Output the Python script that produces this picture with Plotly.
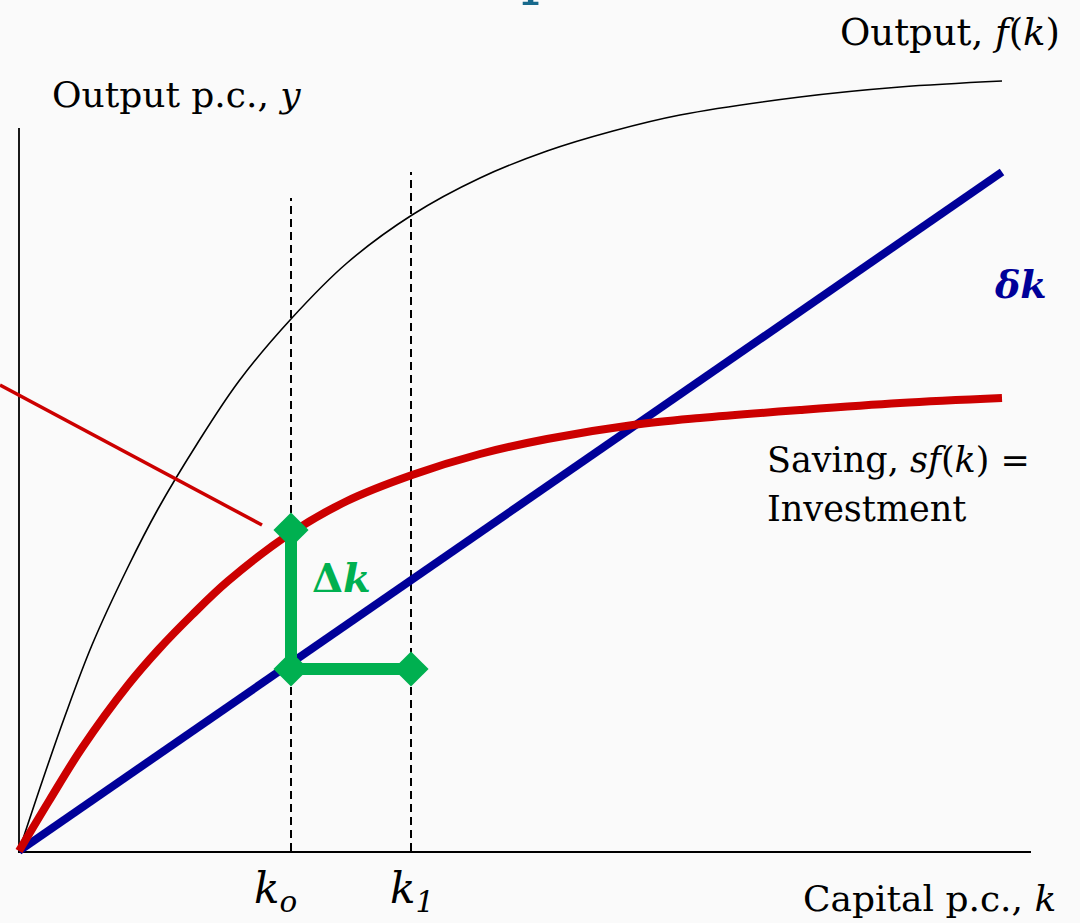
import plotly.graph_objects as go

# ---- data (units: capital per capita k, output per capita y) ----
k_output = [0, 0.24, 0.46, 0.73, 1.09, 1.39, 1.78, 2.20, 2.72, 3.28, 3.93, 4.61, 5.28, 5.94, 6.61, 7.81, 8.81, 9.83]
y_output = [0, 0.72, 1.35, 2.06, 2.84, 3.42, 4.07, 4.70, 5.32, 5.88, 6.36, 6.73, 7.00, 7.20, 7.36, 7.54, 7.64, 7.70]

k_saving = [0, 0.30, 0.63, 1.09, 1.40, 1.73, 2.09, 2.72, 3.28, 3.93, 4.61, 5.28, 6.14, 6.81, 7.81, 8.81, 9.83]
y_saving = [0, 0.50, 1.03, 1.66, 2.02, 2.36, 2.70, 3.18, 3.50, 3.76, 3.97, 4.12, 4.26, 4.33, 4.41, 4.48, 4.53]

k_depr = [0, 9.83]
y_depr = [0, 6.79]

k0 = 2.72
k1 = 3.92
k0_top = 6.53
k1_top = 6.79
dk_top = 3.21
dk_bottom = 1.82

pointer_x = [-0.19, 2.43]
pointer_y = [4.66, 3.26]

y_axis_top = 7.23
x_axis_right = 10.12

FONT = "DejaVu Serif"
RED = "#cc0000"
BLUE = "#000099"
GREEN = "#00b050"

fig = go.Figure()

# axes
fig.add_trace(go.Scatter(x=[0, 0], y=[-0.01, y_axis_top], mode="lines",
                         line=dict(color="black", width=1.8), hoverinfo="skip"))
fig.add_trace(go.Scatter(x=[-0.01, x_axis_right], y=[-0.01, -0.01], mode="lines",
                         line=dict(color="black", width=1.8), hoverinfo="skip"))

# dashed verticals
fig.add_trace(go.Scatter(x=[k0, k0], y=[0, k0_top], mode="lines",
                         line=dict(color="black", width=2, dash="8px,5px")))
fig.add_trace(go.Scatter(x=[k1, k1], y=[0, k1_top], mode="lines",
                         line=dict(color="black", width=2, dash="8px,5px")))

# output f(k)
fig.add_trace(go.Scatter(x=k_output, y=y_output, mode="lines",
                         line=dict(color="black", width=1.6, shape="spline", smoothing=1.0)))
# depreciation line
fig.add_trace(go.Scatter(x=k_depr, y=y_depr, mode="lines",
                         line=dict(color=BLUE, width=8)))
# saving sf(k)
fig.add_trace(go.Scatter(x=k_saving, y=y_saving, mode="lines",
                         line=dict(color=RED, width=8, shape="spline", smoothing=1.0)))
# pointer line
fig.add_trace(go.Scatter(x=pointer_x, y=pointer_y, mode="lines",
                         line=dict(color=RED, width=3.5)))

# delta k bracket
fig.add_trace(go.Scatter(x=[k0, k0, k1], y=[dk_top, dk_bottom, dk_bottom], mode="lines+markers",
                         line=dict(color=GREEN, width=12),
                         marker=dict(symbol="diamond", size=27, color=GREEN)))

def ann(text, x, y, size, color="black", xanchor="left", yanchor="middle"):
    fig.add_annotation(x=x, y=y, text=text, showarrow=False, xanchor=xanchor, yanchor=yanchor,
                       align="left", font=dict(family=FONT, size=size, color=color))

ann("Output, <i>f</i>(<i>k</i>)", 10.43, 8.19, 37, xanchor="right")
ann("Output p.c., <i>y</i>", 0.31, 7.57, 36)
ann("Saving, <i>sf</i>(<i>k</i>) =", 7.46, 3.91, 35)
ann("Investment", 7.46, 3.42, 35)
ann("Capital p.c., <i>k</i>", 10.39, -0.47, 36, xanchor="right")
ann("<b><i>δk</i></b>", 10.01, 5.67, 38, color=BLUE, xanchor="center")
ann("<b>Δ<i>k</i></b>", 3.22, 2.74, 40, color=GREEN, xanchor="center")
ann("<i>k</i><sub><i>o</i></sub>", 2.33, -0.40, 42)
ann("<i>k</i><sub><i>1</i></sub>", 3.69, -0.40, 42)
# cut-off slide title fragment
fig.add_annotation(x=0.50, y=1.0, xref="paper", yref="paper", text="p", showarrow=False,
                   xanchor="center", yanchor="bottom", yshift=-9,
                   font=dict(family=FONT, size=60, color="#17698c"))

fig.update_layout(
    width=1080, height=923,
    margin=dict(l=0, r=0, t=0, b=0),
    paper_bgcolor="#fafafa", plot_bgcolor="#fafafa",
    showlegend=False,
    xaxis=dict(range=[-0.19, 10.61], visible=False, fixedrange=True),
    yaxis=dict(range=[-0.72, 8.51], visible=False, fixedrange=True),
)

fig.write_html("out.html", config={"displayModeBar": False},
               post_script="document.body.style.margin='0px';")
